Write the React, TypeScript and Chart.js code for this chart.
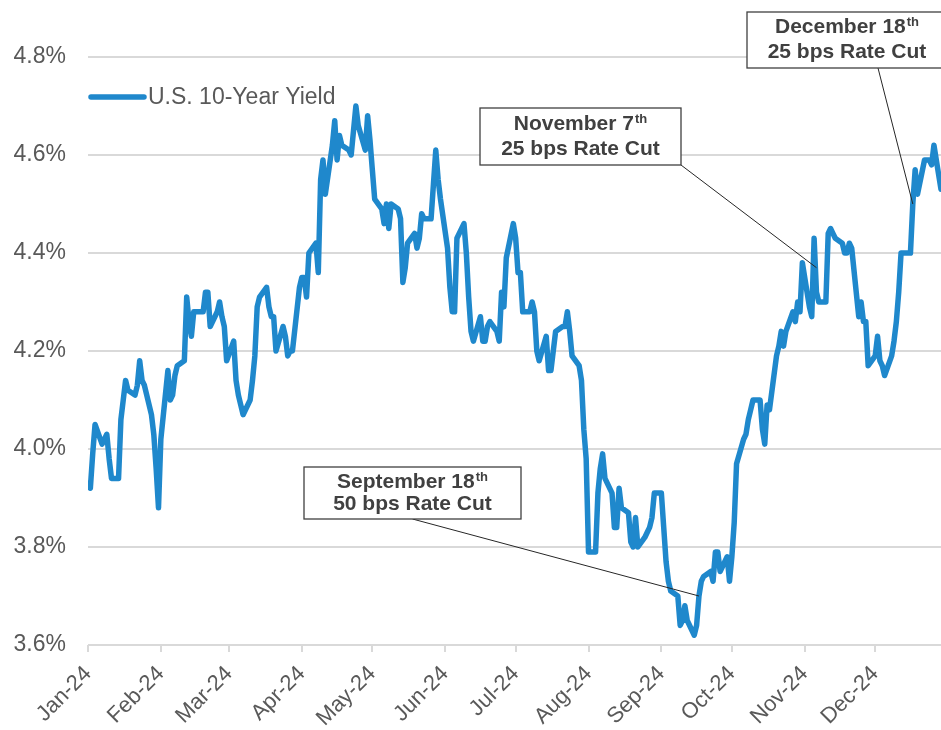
import { useEffect, useRef } from 'react';
import { Chart, registerables } from 'chart.js';

Chart.register(...registerables);

// ---------- DATA ----------
const seriesName = 'U.S. 10-Year Yield';

const tradingDates: string[] = [
  '2024-01-02','2024-01-03','2024-01-04','2024-01-05','2024-01-08','2024-01-09','2024-01-10','2024-01-11','2024-01-12','2024-01-15','2024-01-16','2024-01-17','2024-01-18','2024-01-19','2024-01-22','2024-01-23','2024-01-24','2024-01-25','2024-01-26','2024-01-29','2024-01-30','2024-01-31',
  '2024-02-01','2024-02-02','2024-02-05','2024-02-06','2024-02-07','2024-02-08','2024-02-09','2024-02-12','2024-02-13','2024-02-14','2024-02-15','2024-02-16','2024-02-19','2024-02-20','2024-02-21','2024-02-22','2024-02-23','2024-02-26','2024-02-27','2024-02-28','2024-02-29',
  '2024-03-01','2024-03-04','2024-03-05','2024-03-06','2024-03-07','2024-03-08','2024-03-11','2024-03-12','2024-03-13','2024-03-14','2024-03-15','2024-03-18','2024-03-19','2024-03-20','2024-03-21','2024-03-22','2024-03-25','2024-03-26','2024-03-27','2024-03-28','2024-03-29',
  '2024-04-01','2024-04-02','2024-04-03','2024-04-04','2024-04-05','2024-04-08','2024-04-09','2024-04-10','2024-04-11','2024-04-12','2024-04-15','2024-04-16','2024-04-17','2024-04-18','2024-04-19','2024-04-22','2024-04-23','2024-04-24','2024-04-25','2024-04-26','2024-04-29','2024-04-30',
  '2024-05-01','2024-05-02','2024-05-03','2024-05-06','2024-05-07','2024-05-08','2024-05-09','2024-05-10','2024-05-13','2024-05-14','2024-05-15','2024-05-16','2024-05-17','2024-05-20','2024-05-21','2024-05-22','2024-05-23','2024-05-24','2024-05-27','2024-05-28','2024-05-29','2024-05-30','2024-05-31',
  '2024-06-03','2024-06-04','2024-06-05','2024-06-06','2024-06-07','2024-06-10','2024-06-11','2024-06-12','2024-06-13','2024-06-14','2024-06-17','2024-06-18','2024-06-19','2024-06-20','2024-06-21','2024-06-24','2024-06-25','2024-06-26','2024-06-27','2024-06-28',
  '2024-07-01','2024-07-02','2024-07-03','2024-07-04','2024-07-05','2024-07-08','2024-07-09','2024-07-10','2024-07-11','2024-07-12','2024-07-15','2024-07-16','2024-07-17','2024-07-18','2024-07-19','2024-07-22','2024-07-23','2024-07-24','2024-07-25','2024-07-26','2024-07-29','2024-07-30','2024-07-31',
  '2024-08-01','2024-08-02','2024-08-05','2024-08-06','2024-08-07','2024-08-08','2024-08-09','2024-08-12','2024-08-13','2024-08-14','2024-08-15','2024-08-16','2024-08-19','2024-08-20','2024-08-21','2024-08-22','2024-08-23','2024-08-26','2024-08-27','2024-08-28','2024-08-29','2024-08-30',
  '2024-09-02','2024-09-03','2024-09-04','2024-09-05','2024-09-06','2024-09-09','2024-09-10','2024-09-11','2024-09-12','2024-09-13','2024-09-16','2024-09-17','2024-09-18','2024-09-19','2024-09-20','2024-09-23','2024-09-24','2024-09-25','2024-09-26','2024-09-27','2024-09-30',
  '2024-10-01','2024-10-02','2024-10-03','2024-10-04','2024-10-07','2024-10-08','2024-10-09','2024-10-10','2024-10-11','2024-10-14','2024-10-15','2024-10-16','2024-10-17','2024-10-18','2024-10-21','2024-10-22','2024-10-23','2024-10-24','2024-10-25','2024-10-28','2024-10-29','2024-10-30','2024-10-31',
  '2024-11-01','2024-11-04','2024-11-05','2024-11-06','2024-11-07','2024-11-08','2024-11-11','2024-11-12','2024-11-13','2024-11-14','2024-11-15','2024-11-18','2024-11-19','2024-11-20','2024-11-21','2024-11-22','2024-11-25','2024-11-26','2024-11-27','2024-11-28','2024-11-29',
  '2024-12-02','2024-12-03','2024-12-04','2024-12-05','2024-12-06','2024-12-09','2024-12-10','2024-12-11','2024-12-12','2024-12-13','2024-12-16','2024-12-17','2024-12-18','2024-12-19','2024-12-20','2024-12-23','2024-12-24','2024-12-25','2024-12-26','2024-12-27','2024-12-30',
];

const yieldPct: number[] = [
  3.93,3.92,3.99,4.05,4.01,4.02,4.03,3.98,3.94,3.94,4.06,4.10,4.14,4.12,4.11,4.13,4.18,4.14,4.13,4.07,4.03,3.96,
  3.88,4.02,4.16,4.10,4.11,4.15,4.17,4.18,4.31,4.26,4.23,4.28,4.28,4.28,4.32,4.32,4.25,4.28,4.30,4.27,4.25,
  4.18,4.22,4.14,4.11,4.09,4.07,4.10,4.14,4.19,4.29,4.31,4.33,4.29,4.27,4.27,4.20,4.25,4.23,4.19,4.20,4.20,
  4.33,4.35,4.35,4.31,4.40,4.42,4.36,4.55,4.59,4.52,4.62,4.67,4.59,4.64,4.62,4.61,4.60,4.65,4.70,4.66,4.61,4.68,
  4.63,4.57,4.51,4.49,4.46,4.50,4.45,4.50,4.49,4.47,4.34,4.37,4.42,4.44,4.41,4.43,4.48,4.47,4.47,4.54,4.61,4.55,4.51,
  4.41,4.33,4.28,4.28,4.43,4.46,4.40,4.31,4.24,4.22,4.27,4.22,4.22,4.25,4.26,4.24,4.22,4.32,4.29,4.39,
  4.46,4.43,4.36,4.36,4.28,4.28,4.30,4.28,4.20,4.18,4.23,4.16,4.16,4.20,4.24,4.25,4.25,4.28,4.24,4.19,4.17,4.14,4.04,
  3.98,3.79,3.79,3.91,3.96,3.99,3.94,3.91,3.84,3.84,3.92,3.88,3.87,3.81,3.80,3.86,3.80,3.82,3.83,3.84,3.86,3.91,
  3.91,3.84,3.77,3.73,3.71,3.70,3.64,3.65,3.68,3.65,3.62,3.64,3.70,3.73,3.74,3.75,3.73,3.79,3.79,3.75,3.78,
  3.73,3.78,3.85,3.97,4.02,4.03,4.06,4.08,4.10,4.10,4.04,4.01,4.09,4.08,4.19,4.21,4.24,4.21,4.24,4.28,4.26,4.30,4.28,
  4.38,4.29,4.27,4.43,4.32,4.30,4.30,4.44,4.45,4.44,4.43,4.42,4.40,4.40,4.42,4.41,4.27,4.30,4.26,4.26,4.17,
  4.19,4.23,4.18,4.17,4.15,4.19,4.22,4.26,4.32,4.40,4.40,4.40,4.50,4.57,4.52,4.59,4.59,4.59,4.58,4.62,4.53,
];

const monthTickDates: string[] = [
  '2024-01-02','2024-02-02','2024-03-02','2024-04-02','2024-05-02','2024-06-02',
  '2024-07-02','2024-08-02','2024-09-02','2024-10-02','2024-11-02','2024-12-02',
];
const monthTickLabels: string[] = [
  'Jan-24','Feb-24','Mar-24','Apr-24','May-24','Jun-24',
  'Jul-24','Aug-24','Sep-24','Oct-24','Nov-24','Dec-24',
];
const yTickValues: number[] = [3.6, 3.8, 4.0, 4.2, 4.4, 4.6, 4.8];

const cutDates: string[] = ['2024-09-18', '2024-11-07', '2024-12-18'];
const cutLevels: number[] = [3.70, 4.37, 4.50];
const cutTitles: string[] = ['September 18', 'November 7', 'December 18'];
const cutDetails: string[] = ['50 bps Rate Cut', '25 bps Rate Cut', '25 bps Rate Cut'];

// ---------- STYLE / LAYOUT ----------
const FONT = "'Liberation Sans', Arial, Helvetica, sans-serif";
const LINE_COLOR = '#1F88CC';
const TEXT_COLOR = '#595959';
const GRID_COLOR = '#D9D9D9';
const calloutBoxes = [
  { left: 304, top: 467, width: 217, height: 52, gap: 22, anchor: 0.5 },
  { left: 480, top: 108, width: 201, height: 57, gap: 25, anchor: 1 },
  { left: 747, top: 12, width: 200, height: 56, gap: 25, anchor: 0.655 },
];

const BASE = Date.UTC(2024, 0, 2);
function dayIndex(s: string): number {
  const [y, m, d] = s.split('-').map(Number);
  return (Date.UTC(y, m - 1, d) - BASE) / 86400000;
}

const overlayPlugin = {
  id: 'overlay',
  afterDraw(chart: any) {
    const { ctx, chartArea, scales } = chart;
    const xs = scales.x;
    const ys = scales.y;
    ctx.save();
    // legend
    const ly = chartArea.top + 40;
    const lx = chartArea.left + 3;
    ctx.strokeStyle = LINE_COLOR;
    ctx.lineWidth = 5.5;
    ctx.lineCap = 'round';
    ctx.beginPath();
    ctx.moveTo(lx, ly);
    ctx.lineTo(lx + 53, ly);
    ctx.stroke();
    ctx.fillStyle = TEXT_COLOR;
    ctx.font = `23px ${FONT}`;
    ctx.textAlign = 'left';
    ctx.textBaseline = 'middle';
    ctx.fillText(seriesName, lx + 57, ly + 1);

    // callouts
    cutDates.forEach((d, i) => {
      const b = calloutBoxes[i];
      const tx = xs.getPixelForValue(dayIndex(d));
      const ty = ys.getPixelForValue(cutLevels[i]);
      const sx = b.left + b.width * b.anchor;
      const sy = b.top + b.height;
      ctx.strokeStyle = '#262626';
      ctx.lineWidth = 1;
      ctx.lineCap = 'butt';
      ctx.beginPath();
      ctx.moveTo(sx, sy);
      ctx.lineTo(tx, ty);
      ctx.stroke();

      ctx.fillStyle = '#FFFFFF';
      ctx.fillRect(b.left, b.top, b.width, b.height);
      ctx.strokeStyle = '#404040';
      ctx.lineWidth = 1.3;
      ctx.strokeRect(b.left, b.top, b.width, b.height);

      const cx = b.left + b.width / 2;
      const cy = b.top + b.height / 2;
      const y1 = cy - b.gap / 2;
      const y2 = cy + b.gap / 2;
      ctx.fillStyle = '#404040';
      ctx.textBaseline = 'middle';
      ctx.font = `bold 21px ${FONT}`;
      const tw = ctx.measureText(cutTitles[i]).width;
      ctx.font = `bold 13px ${FONT}`;
      const sw = ctx.measureText('th').width;
      const startX = cx - (tw + sw + 1) / 2;
      ctx.textAlign = 'left';
      ctx.font = `bold 21px ${FONT}`;
      ctx.fillText(cutTitles[i], startX, y1);
      ctx.font = `bold 13px ${FONT}`;
      ctx.fillText('th', startX + tw + 1, y1 - 5);
      ctx.textAlign = 'center';
      ctx.font = `bold 21px ${FONT}`;
      ctx.fillText(cutDetails[i], cx, y2);
    });
    ctx.restore();
  },
};

export default function App() {
  const canvasRef = useRef<HTMLCanvasElement | null>(null);

  useEffect(() => {
    const canvas = canvasRef.current;
    if (!canvas) return;
    const points = tradingDates.map((d, i) => ({ x: dayIndex(d), y: yieldPct[i] }));
    const tickDays = monthTickDates.map(dayIndex);
    const chart = new Chart(canvas, {
      type: 'line',
      data: {
        datasets: [
          {
            label: seriesName,
            data: points,
            borderColor: LINE_COLOR,
            backgroundColor: LINE_COLOR,
            borderWidth: 5.5,
            pointRadius: 0,
            pointHoverRadius: 0,
            tension: 0,
            fill: false,
            borderJoinStyle: 'round',
            borderCapStyle: 'round',
          },
        ],
      },
      options: {
        animation: false,
        responsive: false,
        maintainAspectRatio: false,
        devicePixelRatio: 1,
        events: [],
        layout: { padding: { top: 57, left: 0, right: 0, bottom: 0 } },
        plugins: {
          legend: { display: false },
          title: { display: false },
          tooltip: { enabled: false },
        },
        scales: {
          x: {
            type: 'linear',
            min: dayIndex(tradingDates[0]),
            max: dayIndex(tradingDates[tradingDates.length - 1]),
            afterBuildTicks: (s: any) => {
              s.ticks = tickDays.map((v) => ({ value: v }));
            },
            afterFit: (s: any) => {
              s.height = 85;
            },
            ticks: {
              autoSkip: false,
              maxRotation: 45,
              minRotation: 45,
              padding: 9,
              color: TEXT_COLOR,
              font: { family: FONT, size: 22 },
              callback: (_v: any, i: number) => monthTickLabels[i],
            },
            grid: {
              drawOnChartArea: false,
              drawTicks: true,
              tickLength: 7,
              color: GRID_COLOR,
              lineWidth: 2,
            },
            border: { display: false },
          },
          y: {
            min: 3.6,
            max: 4.8,
            afterBuildTicks: (s: any) => {
              s.ticks = yTickValues.map((v) => ({ value: v }));
            },
            afterFit: (s: any) => {
              s.width = 88;
            },
            ticks: {
              padding: 22,
              color: TEXT_COLOR,
              font: { family: FONT, size: 23 },
              callback: (v: any) => Number(v).toFixed(1) + '%',
            },
            grid: {
              color: GRID_COLOR,
              lineWidth: 2,
              drawTicks: false,
            },
            border: { display: false },
          },
        },
      },
      plugins: [overlayPlugin],
    } as any);
    return () => chart.destroy();
  }, []);

  return (
    <div style={{ position: 'absolute', left: 0, top: 0, width: 941, height: 730, background: '#fff' }}>
      <canvas ref={canvasRef} width={941} height={730} />
    </div>
  );
}
